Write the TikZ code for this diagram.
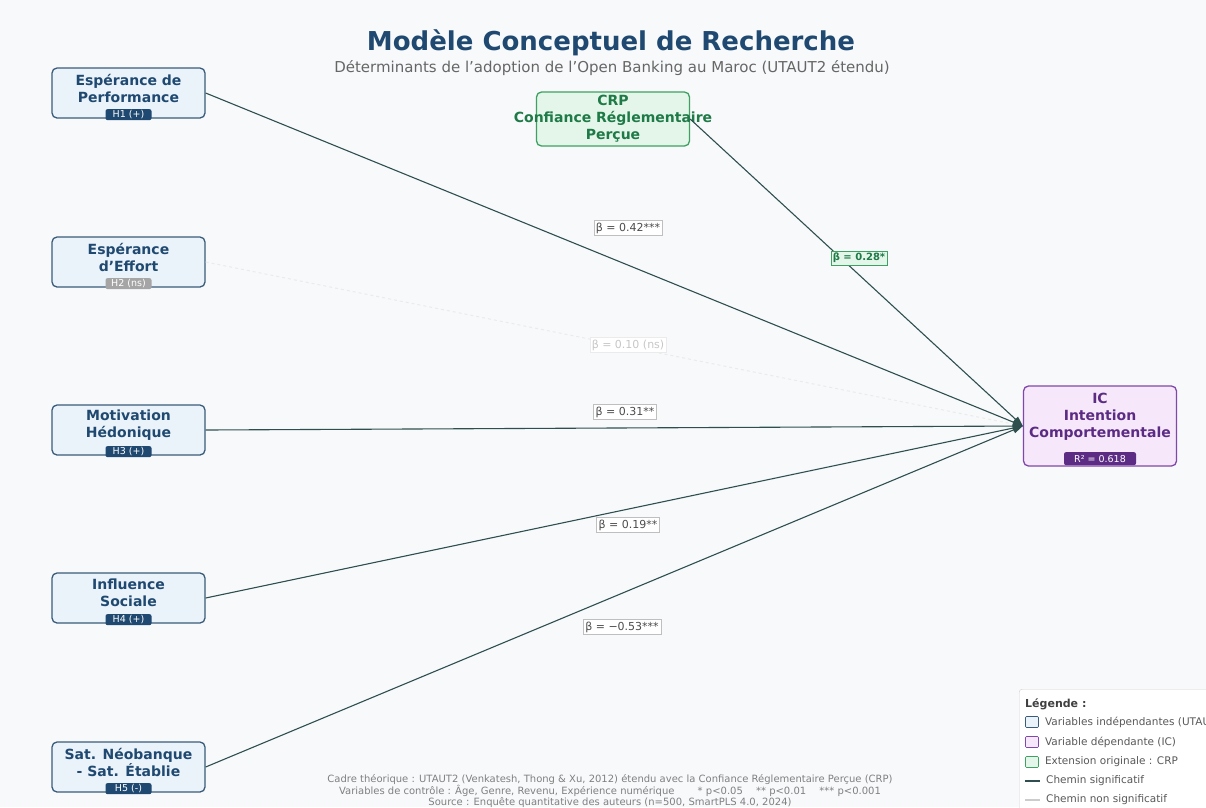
\documentclass[tikz,border=0pt]{standalone}
\usepackage{fontspec}
\setmainfont{DejaVu Sans}
\usepackage{tikz}
\usetikzlibrary{positioning,arrows.meta}
\definecolor{mcBg}{RGB}{247,249,251}
\definecolor{mcNavy}{RGB}{31,73,112}
\definecolor{mcIvFill}{RGB}{234,242,250}
\definecolor{mcIvDraw}{RGB}{58,92,122}
\definecolor{mcGreen}{RGB}{30,122,70}
\definecolor{mcGreenFill}{RGB}{228,246,234}
\definecolor{mcGreenDraw}{RGB}{62,160,98}
\definecolor{mcPurple}{RGB}{92,44,132}
\definecolor{mcPurpleFill}{RGB}{246,232,250}
\definecolor{mcPurpleDraw}{RGB}{128,72,170}
\definecolor{mcPath}{RGB}{47,79,79}
\definecolor{mcGrey}{RGB}{105,105,105}
\tikzset{
  mc/box/.style={draw=mcIvDraw, fill=mcIvFill, line width=1.3pt, rounded corners=5pt,
                 minimum width=153pt, minimum height=50pt, inner sep=0pt},
  mc/txt/.style={font=\fontsize{14}{17}\selectfont\bfseries, text=mcNavy,
                 align=center, inner sep=0pt},
  mc/badge/.style={fill=mcNavy, text=white, rounded corners=2pt, inner sep=1pt,
                   font=\fontsize{9.5}{10}\selectfont, minimum width=46pt, minimum height=11pt},
  mc/badge ns/.style={mc/badge, fill=mcGrey!60},
  mc/crp/.style={mc/box, draw=mcGreenDraw, fill=mcGreenFill, minimum height=54pt},
  mc/ic/.style={mc/box, draw=mcPurpleDraw, fill=mcPurpleFill, minimum height=80pt},
  mc/path/.style={-{Triangle[length=10pt,width=7pt]}, line width=1.1pt, draw=mcPath},
  mc/path ns/.style={line width=1pt, draw=black!8, dashed},
  mc/beta/.style={fill=white, draw=black!25, line width=0.4pt, inner sep=2pt,
                  font=\fontsize{11}{12}\selectfont, text=black!70},
  mc/note/.style={font=\fontsize{10}{10}\selectfont, text=black!50, align=center},
  mc/leg/.style={font=\fontsize{10.5}{12}\selectfont, text=black!65, anchor=west, inner sep=0pt},
  mc/legsq/.style={draw=black!55, line width=0.6pt, rounded corners=1pt,
                   minimum width=13pt, minimum height=11pt, inner sep=0pt},
}
\begin{document}
\begin{tikzpicture}[x=1pt, y=-1pt]
  \clip (0,0) rectangle (1206,807);
  \fill[mcBg] (0,0) rectangle (1206,807);

  % ---------------- title ----------------
  \node[font=\fontsize{26}{30}\selectfont\bfseries, text=mcNavy] (title) at (611,43)
    {Modèle Conceptuel de Recherche};
  \node[font=\fontsize{15}{16}\selectfont, text=black!60] (subtitle) at (612,68)
    {Déterminants de l'adoption de l'Open Banking au Maroc (UTAUT2 étendu)};

  % ---------------- independent variables ----------------
  \node[mc/box] (pe) at (128.5,93) {};
  \node[mc/txt, yshift=5pt] (pe-t) at (pe.center) {Espérance de\\Performance};
  \node[mc/badge, yshift=4pt] (pe-h) at (pe.south) {H1 (+)};

  \node[mc/box] (ee) at (128.5,262) {};
  \node[mc/txt, yshift=5pt] (ee-t) at (ee.center) {Espérance\\d'Effort};
  \node[mc/badge ns, yshift=4pt] (ee-h) at (ee.south) {H2 (ns)};

  \node[mc/box] (mh) at (128.5,430) {};
  \node[mc/txt, yshift=5pt] (mh-t) at (mh.center) {Motivation\\Hédonique};
  \node[mc/badge, yshift=4pt] (mh-h) at (mh.south) {H3 (+)};

  \node[mc/box] (is) at (128.5,598) {};
  \node[mc/txt, yshift=5pt] (is-t) at (is.center) {Influence\\Sociale};
  \node[mc/badge, yshift=4pt] (is-h) at (is.south) {H4 (+)};

  \node[mc/box] (sat) at (128.5,767) {};
  \node[mc/txt, yshift=5pt] (sat-t) at (sat.center) {Sat. Néobanque\\- Sat. Établie};
  \node[mc/badge, yshift=4pt] (sat-h) at (sat.south) {H5 (-)};

  % ---------------- moderator / extension ----------------
  \node[mc/crp] (crp) at (613,119) {};
  \node[mc/txt, text=mcGreen] (crp-t) at (crp.center) {CRP\\Confiance Réglementaire\\Perçue};

  % ---------------- dependent variable ----------------
  \node[mc/ic] (ic) at (1100,426) {};
  \node[mc/txt, text=mcPurple, yshift=9pt] (ic-t) at (ic.center)
    {IC\\Intention\\Comportementale};
  \node[mc/badge, fill=mcPurple, minimum width=72pt, minimum height=13pt, yshift=8pt]
    (ic-r) at (ic.south) {R² = 0.618};

  % ---------------- paths ----------------
  \draw[mc/path ns] (ee.east) -- (ic.west);
  \draw[mc/path] (pe.east) -- (ic.west);
  \draw[mc/path] (mh.east) -- (ic.west);
  \draw[mc/path] (is.east) -- (ic.west);
  \draw[mc/path] (sat.east) -- (ic.west);
  \draw[mc/path] (crp.east) -- (ic.west);

  \node[mc/beta] (b1) at (628,228) {β = 0.42***};
  \node[mc/beta, draw=black!8, text=black!22] (b2) at (628,345) {β = 0.10 (ns)};
  \node[mc/beta] (b3) at (625,412) {β = 0.31**};
  \node[mc/beta] (b4) at (628,525) {β = 0.19**};
  \node[mc/beta] (b5) at (622,627) {β = −0.53***};
  \node[mc/beta, fill=mcGreenFill, draw=mcGreenDraw, text=mcGreen,
        font=\fontsize{10}{12}\selectfont\bfseries] (b6) at (859,258) {β = 0.28*};

  % ---------------- footer ----------------
  \node[mc/note] (foot) at (610,791)
    {Cadre théorique : UTAUT2 (Venkatesh, Thong \& Xu, 2012) étendu avec la Confiance Réglementaire Perçue (CRP)\\
     Variables de contrôle : Âge, Genre, Revenu, Expérience numérique \qquad * p<0.05 \quad ** p<0.01 \quad *** p<0.001\\
     Source : Enquête quantitative des auteurs (n=500, SmartPLS 4.0, 2024)};

  % ---------------- legend ----------------
  \node[draw=black!20, fill=white, rounded corners=3pt, minimum width=200pt,
        minimum height=130pt, anchor=north west] (legend) at (1019,689) {};
  \node[mc/leg, font=\fontsize{11}{12}\selectfont\bfseries, text=black!75] (leg-t)
    at (1025,704) {Légende :};
  \node[mc/legsq, fill=mcIvFill, draw=mcIvDraw] (sq1) at (1032,722) {};
  \node[mc/leg, right=6pt of sq1] (leg1) {Variables indépendantes (UTAUT2)};
  \node[mc/legsq, fill=mcPurpleFill, draw=mcPurpleDraw] (sq2) at (1032,742) {};
  \node[mc/leg, right=6pt of sq2] (leg2) {Variable dépendante (IC)};
  \node[mc/legsq, fill=mcGreenFill, draw=mcGreenDraw] (sq3) at (1032,762) {};
  \node[mc/leg, right=6pt of sq3] (leg3) {Extension originale : CRP};
  \coordinate (l4a) at (1025,781);
  \coordinate (l4b) at (1040,781);
  \draw[line width=1.2pt, mcPath] (l4a) -- (l4b);
  \node[mc/leg, right=6pt of l4b] (leg4) {Chemin significatif};
  \coordinate (l5a) at (1025,800);
  \coordinate (l5b) at (1040,800);
  \draw[line width=1.2pt, black!20] (l5a) -- (l5b);
  \node[mc/leg, right=6pt of l5b] (leg5) {Chemin non significatif};

\end{tikzpicture}
\end{document}
